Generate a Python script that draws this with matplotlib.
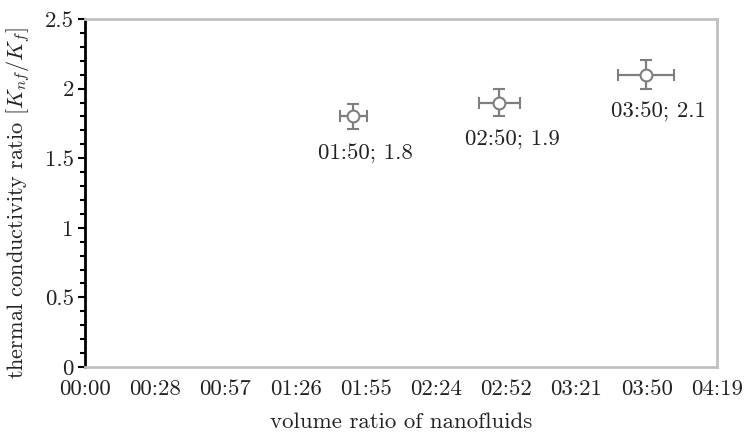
import numpy as np
import matplotlib
matplotlib.use('Agg')
import matplotlib.pyplot as plt
from matplotlib.ticker import MultipleLocator

plt.rcParams['font.family'] = ['cmr10', 'DejaVu Serif']
plt.rcParams['mathtext.fontset'] = 'cm'
plt.rcParams['axes.formatter.use_mathtext'] = True

# volume ratio as time of day (minutes), Excel style
x_minutes = [110, 170, 230]
x_err = [5.5, 8.5, 11.5]
ratio = [1.8, 1.9, 2.1]
ratio_err = [0.09, 0.095, 0.105]
point_labels = ['01:50; 1.8', '02:50; 1.9', '03:50; 2.1']

x_tick_labels = ['00:00', '00:28', '00:57', '01:26', '01:55',
                 '02:24', '02:52', '03:21', '03:50', '04:19']
x_step = 28.8  # 0.02 day
y_tick_labels = ['0', '0.5', '1', '1.5', '2', '2.5']

gray = '#7f7f7f'
txt = '#222222'
fs = 16.5

fig = plt.figure(figsize=(7.44, 4.33), dpi=100)
ax = fig.add_axes([0.1142, 0.1524, 0.8495, 0.8037])

ax.errorbar(x_minutes, ratio, xerr=x_err, yerr=ratio_err, fmt='o',
            color=gray, ecolor=gray, elinewidth=1.6, capsize=4.2, capthick=1.6,
            markersize=8.5, markerfacecolor='white', markeredgecolor=gray,
            markeredgewidth=1.5, zorder=3)

for xv, yv, lab in zip(x_minutes, ratio, point_labels):
    ax.annotate(lab, (xv, yv), xytext=(9, -19), textcoords='offset points',
                ha='center', va='top', fontsize=fs, color=txt)

xt = [i * x_step for i in range(len(x_tick_labels))]
ax.set_xlim(0, xt[-1])
ax.set_xticks(xt)
ax.set_xticklabels(x_tick_labels)
ax.set_ylim(0, 2.5)
ax.set_yticks([0, 0.5, 1, 1.5, 2, 2.5])
ax.set_yticklabels(y_tick_labels)
ax.yaxis.set_minor_locator(MultipleLocator(0.1))

ax.tick_params(axis='x', length=0, pad=9, labelsize=fs, labelcolor=txt)
ax.tick_params(axis='y', which='major', direction='out', length=5, width=1.5,
               labelsize=fs, labelcolor=txt, pad=3)
ax.tick_params(axis='y', which='minor', direction='out', length=3.5, width=1.5)

for side in ['top', 'right', 'bottom']:
    ax.spines[side].set_color('#c0c0c0')
    ax.spines[side].set_linewidth(2)
ax.spines['left'].set_color('black')
ax.spines['left'].set_linewidth(2)

ax.set_xlabel('volume ratio of nanofluids', fontsize=fs, labelpad=10, color=txt)
ax.set_ylabel(r'thermal conductivity ratio [$K_{nf}/K_f$]', fontsize=16,
              color=txt)
ax.yaxis.set_label_coords(-0.084, 0.47)

fig.savefig('out.png', dpi=100)
